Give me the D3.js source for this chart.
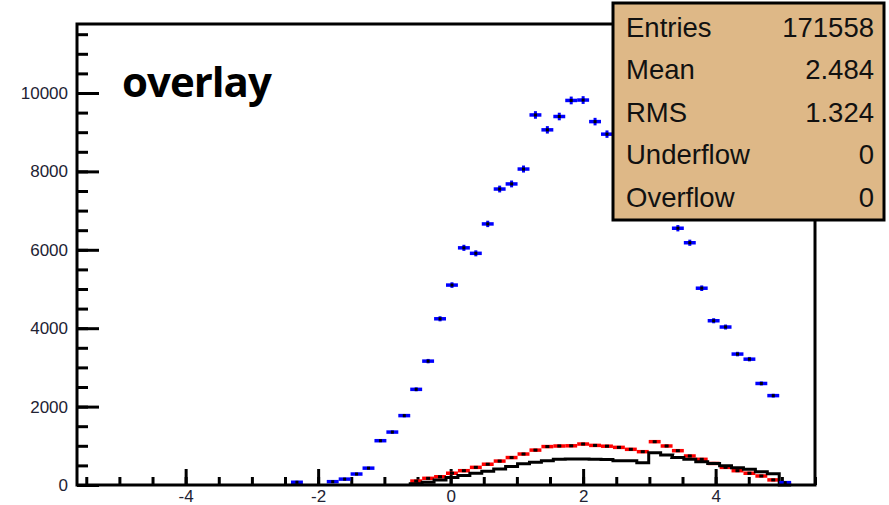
<!DOCTYPE html>
<html>
<head>
<meta charset="utf-8">
<script src="https://cdn.jsdelivr.net/npm/d3@7"></script>
<style>
  body { margin: 0; background: #fff; }
  svg { display: block; }
</style>
</head>
<body>
<div id="svgRoot"></div>
<script>
// bin centers shared by the three histograms (bin width ~0.18)
const binCenters = [-2.32, -2.14, -1.96, -1.78, -1.60, -1.42, -1.24, -1.06, -0.88, -0.70,
  -0.52, -0.34, -0.16, 0.02, 0.20, 0.38, 0.56, 0.74, 0.92, 1.10,
  1.28, 1.46, 1.64, 1.82, 2.00, 2.18, 2.36, 2.54, 2.72, 2.90,
  3.08, 3.26, 3.43, 3.61, 3.79, 3.97, 4.15, 4.33, 4.51, 4.69,
  4.87, 5.05];
const binWidth = 0.18;

// blue points (main histogram)
const blueCounts = [70, 0, 0, 85, 150, 280, 430, 1130, 1350, 1770,
  2440, 3160, 4240, 5100, 6050, 5910, 6660, 7550, 7680, 8060,
  9440, 9060, 9400, 9810, 9820, 9270, 8950, 8650, 8200, 7850,
  7300, 6950, 6550, 6180, 5020, 4190, 4030, 3340, 3210, 2590,
  2280, 60];

// red points
const redCounts = [0, 0, 0, 0, 0, 0, 0, 0, 0, 0,
  100, 170, 210, 300, 365, 450, 530, 610, 700, 790,
  890, 980, 995, 1000, 1045, 1010, 990, 960, 910, 850,
  1105, 995, 875, 740, 655, 550, 450, 365, 300, 230,
  130, 20];

// black line histogram
const blackCounts = [0, 0, 0, 0, 0, 0, 0, 0, 0, 0,
  30, 70, 130, 190, 240, 300, 350, 410, 470, 540,
  580, 620, 655, 665, 665, 660, 650, 620, 620, 570,
  820, 765, 700, 655, 595, 550, 490, 440, 400, 340,
  290, 0];

const yMajorTicks = [0, 2000, 4000, 6000, 8000, 10000];
const xMajorTicks = [-4, -2, 0, 2, 4];

const statNames = ["Entries", "Mean", "RMS", "Underflow", "Overflow"];
const statValues = ["171558", "2.484", "1.324", "0", "0"];

const W = 889, H = 505;
const frame = { left: 77, top: 24, right: 815, bottom: 485 };

const svg = d3.select("#svgRoot").append("svg")
  .attr("width", W).attr("height", H);

const x = d3.scaleLinear().domain([-5.64, 5.5]).range([frame.left, frame.right]);
const y = d3.scaleLinear().domain([0, 11760]).range([frame.bottom, frame.top]);

const labelFont = "'Liberation Sans', Arial, sans-serif";

// y axis: majors + minors pointing inward
const yMinor = d3.range(0, 11760, 500);
const gyMinor = svg.append("g").attr("transform", `translate(${frame.left},0)`)
  .call(d3.axisLeft(y).tickValues(yMinor).tickSize(-11).tickFormat(""));
const gy = svg.append("g").attr("transform", `translate(${frame.left},0)`)
  .call(d3.axisLeft(y).tickValues(yMajorTicks).tickSize(-22).tickPadding(9)
    .tickFormat(d => String(d)));

// x axis
const xMinor = d3.range(-5.5, 5.51, 0.5);
const gxMinor = svg.append("g").attr("transform", `translate(0,${frame.bottom})`)
  .call(d3.axisBottom(x).tickValues(xMinor).tickSize(-8).tickFormat(""));
const gx = svg.append("g").attr("transform", `translate(0,${frame.bottom})`)
  .call(d3.axisBottom(x).tickValues(xMajorTicks).tickSize(-16).tickPadding(5)
    .tickFormat(d => String(d)));

[gyMinor, gy, gxMinor, gx].forEach(g => {
  g.select(".domain").remove();
  g.selectAll(".tick line").attr("stroke", "#000").attr("stroke-width", 3);
  g.selectAll(".tick text").attr("fill", "#222233")
    .style("font-family", labelFont).style("font-size", "17px");
});

const bins = binCenters.map((c, i) => ({
  c: c, lo: c - binWidth / 2, hi: c + binWidth / 2,
  blue: blueCounts[i], red: redCounts[i], black: blackCounts[i]
}));

// red points: bin-wide bar + black marker
const redBins = bins.filter(d => d.red > 0);
const redG = svg.append("g");
redG.selectAll("line.h").data(redBins).enter().append("line")
  .attr("x1", d => x(d.lo)).attr("x2", d => x(d.hi))
  .attr("y1", d => y(d.red)).attr("y2", d => y(d.red))
  .attr("stroke", "#ff0000").attr("stroke-width", 3.5);
redG.selectAll("line.v").data(redBins).enter().append("line")
  .attr("x1", d => x(d.c)).attr("x2", d => x(d.c))
  .attr("y1", d => y(d.red - Math.sqrt(d.red))).attr("y2", d => y(d.red + Math.sqrt(d.red)))
  .attr("stroke", "#ff0000").attr("stroke-width", 3);
redG.selectAll("rect").data(redBins).enter().append("rect")
  .attr("x", d => x(d.c) - 2).attr("y", d => y(d.red) - 1.5)
  .attr("width", 4).attr("height", 3).attr("fill", "#000");

// black step histogram
const stepPts = [];
bins.filter(d => d.black > 0 || d.c > 0).forEach(d => {
  stepPts.push([d.lo, d.black]);
  stepPts.push([d.hi, d.black]);
});
const firstBlack = bins.find(d => d.black > 0);
stepPts.unshift([firstBlack.lo, 0]);
svg.append("path")
  .attr("d", d3.line().x(p => x(p[0])).y(p => y(p[1]))(stepPts))
  .attr("fill", "none").attr("stroke", "#000").attr("stroke-width", 3);

// blue points
const blueBins = bins.filter(d => d.blue > 0);
const blueG = svg.append("g");
blueG.selectAll("line.h").data(blueBins).enter().append("line")
  .attr("x1", d => x(d.lo)).attr("x2", d => x(d.hi))
  .attr("y1", d => y(d.blue)).attr("y2", d => y(d.blue))
  .attr("stroke", "#0000ff").attr("stroke-width", 3.5);
blueG.selectAll("line.v").data(blueBins).enter().append("line")
  .attr("x1", d => x(d.c)).attr("x2", d => x(d.c))
  .attr("y1", d => y(d.blue - Math.sqrt(d.blue))).attr("y2", d => y(d.blue + Math.sqrt(d.blue)))
  .attr("stroke", "#0000ff").attr("stroke-width", 3);
blueG.selectAll("rect").data(blueBins).enter().append("rect")
  .attr("x", d => x(d.c) - 1.5).attr("y", d => y(d.blue) - 1.5)
  .attr("width", 3).attr("height", 3).attr("fill", "#000");

// frame
svg.append("rect")
  .attr("x", frame.left).attr("y", frame.top)
  .attr("width", frame.right - frame.left).attr("height", frame.bottom - frame.top)
  .attr("fill", "none").attr("stroke", "#000").attr("stroke-width", 3);

// label
svg.append("text")
  .text("overlay")
  .attr("x", 122).attr("y", 97)
  .style("font-family", "'Open Sans', sans-serif")
  .style("font-weight", "bold")
  .style("font-size", "42px")
  .style("letter-spacing", "-1px")
  .attr("fill", "#000");

// stats box
const box = { x: 613, y: 3, w: 271, h: 217 };
svg.append("rect")
  .attr("x", box.x).attr("y", box.y).attr("width", box.w).attr("height", box.h)
  .attr("fill", "#deb887").attr("stroke", "#000").attr("stroke-width", 3);

const statG = svg.append("g")
  .style("font-family", labelFont).style("font-size", "27.5px").attr("fill", "#111");
statG.selectAll("text.name").data(statNames).enter().append("text")
  .attr("x", 626).attr("y", (d, i) => 37 + i * 42.4)
  .text(d => d);
statG.selectAll("text.val").data(statValues).enter().append("text")
  .attr("x", 874).attr("y", (d, i) => 37 + i * 42.4)
  .attr("text-anchor", "end")
  .text(d => d);
</script>
</body>
</html>
